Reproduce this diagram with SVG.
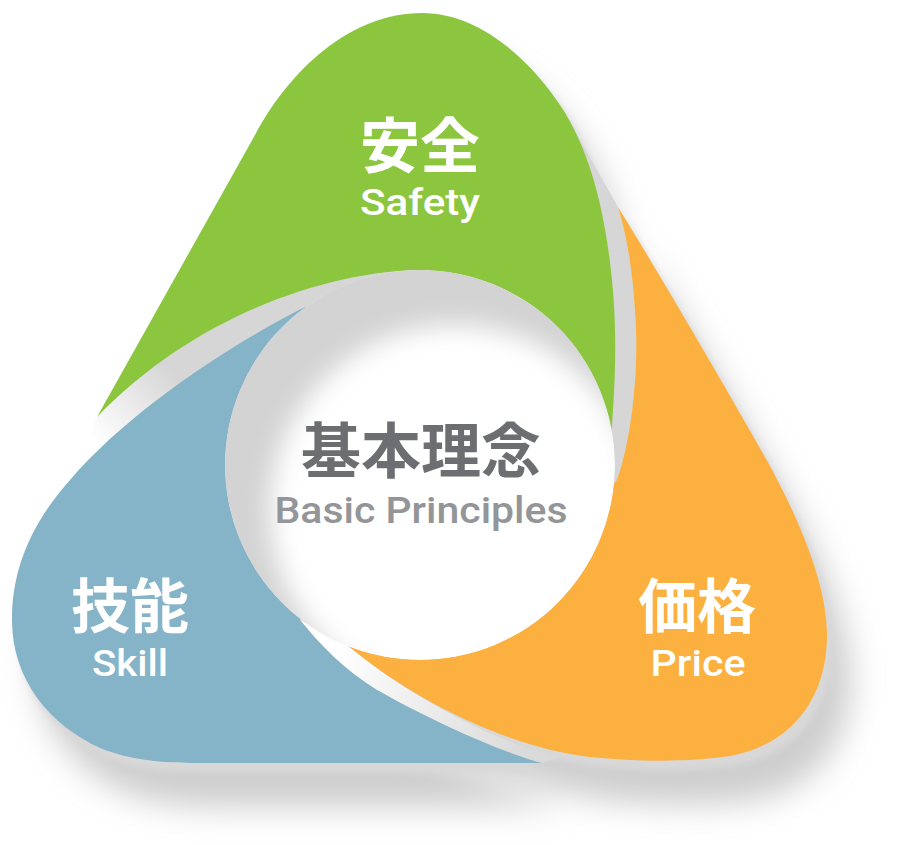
<svg xmlns="http://www.w3.org/2000/svg" width="902" height="845" viewBox="0 0 902 845">
<style>
.jp{font-family:"Noto Sans CJK JP","Noto Sans CJK SC",sans-serif;font-weight:700;text-anchor:middle}
.en{font-family:Roboto,"Liberation Sans",Arial,sans-serif;font-weight:500;text-anchor:middle}
.w{fill:#ffffff}
</style>
<defs>
<path id="pG" d="M 97,417 L 255,135 C 290,70 350,13 422,13 C 480,13 530,60 560,105 C 590,150 605,210 612,280 C 618,340 615,400 608,470 L 430,400 L 430,270 C 340,268 200,310 97,417 Z"/>
<path id="pB" d="M 340,300 L 305,307 C 230,345 130,410 70,480 C 30,525 12,570 12,620 C 12,680 50,725 100,748 C 130,760 160,763 200,763 L 542,763 C 500,752 430,720 377,690 C 345,670 320,645 300,620 L 330,560 Z"/>
<path id="pO" d="M 618,207 C 660,275 730,395 765,457 C 800,520 827,585 827,635 C 827,700 790,745 730,756 C 690,762 640,762 590,757 C 510,748 410,700 340,639 L 420,560 L 600,500 L 617,480 C 630,445 638,380 636,330 C 634,280 628,240 618,207 Z"/>
<filter id="blurWide" filterUnits="userSpaceOnUse" x="-60" y="-60" width="1020" height="980"><feGaussianBlur stdDeviation="16"/></filter>
<filter id="blurTight" filterUnits="userSpaceOnUse" x="-60" y="-60" width="1020" height="980"><feGaussianBlur stdDeviation="3"/></filter>
<filter id="blurIn" filterUnits="userSpaceOnUse" x="100" y="150" width="700" height="650"><feGaussianBlur stdDeviation="13"/></filter>
<clipPath id="circleClip"><circle cx="420" cy="465" r="195"/></clipPath>
<linearGradient id="gapGB" gradientUnits="userSpaceOnUse" x1="95" y1="440" x2="170" y2="370">
<stop offset="0" stop-color="#ffffff"/><stop offset="1" stop-color="#d6d6d6"/>
</linearGradient>
<linearGradient id="gapOB" gradientUnits="userSpaceOnUse" x1="340" y1="645" x2="520" y2="760">
<stop offset="0" stop-color="#ffffff"/><stop offset="1" stop-color="#dadada"/>
</linearGradient>
</defs>
<rect width="902" height="845" fill="#ffffff"/>
<g id="shadows">
<g fill="#cdcdcd" filter="url(#blurWide)" transform="translate(24,44)">
<use href="#pG"/><use href="#pB"/><use href="#pO"/>
</g>
<g fill="#d8d8d8" filter="url(#blurTight)" transform="translate(6,10)">
<use href="#pG"/><use href="#pB"/><use href="#pO"/>
</g>
<path fill="url(#gapGB)" d="M 97,417 C 200,310 340,268 430,270 L 420,465 L 305,307 C 230,345 130,410 70,480 Z"/>
<path fill="#d6d6d6" d="M 560,105 C 590,150 605,210 612,280 C 618,340 615,400 608,470 L 617,480 C 630,445 638,380 636,330 C 634,280 628,240 618,207 Z"/>
<path fill="url(#gapOB)" d="M 300,620 C 320,645 345,670 377,690 C 430,720 500,752 542,763 L 560,757 C 510,748 410,700 340,639 Z"/>
</g>
<g id="node-safety">
<use href="#pG" fill="#8cc63f"/>
<text class="jp w" x="420" y="168" font-size="60">安全</text>
<text class="en w" x="420" y="215" font-size="37" textLength="120" lengthAdjust="spacingAndGlyphs">Safety</text>
</g>
<g id="node-price">
<use href="#pO" fill="#fbb040"/>
<text class="jp w" x="697" y="628" font-size="59">価格</text>
<text class="en w" x="698" y="676" font-size="37" textLength="95" lengthAdjust="spacingAndGlyphs">Price</text>
</g>
<g id="node-skill">
<use href="#pB" fill="#85b3c8"/>
<text class="jp w" x="130" y="628" font-size="59">技能</text>
<text class="en w" x="130" y="676" font-size="37" textLength="76" lengthAdjust="spacingAndGlyphs">Skill</text>
</g>
<g id="node-center">
<g clip-path="url(#circleClip)">
<circle cx="420" cy="465" r="195" fill="#ffffff"/>
<path fill="#d3d3d3" fill-rule="evenodd" filter="url(#blurIn)" d="M 190,230 H 660 V 710 H 190 Z M 270,510 A 185,185 0 1,0 640,510 A 185,185 0 1,0 270,510 Z"/>
</g>
<text class="jp" x="421" y="473" font-size="60" fill="#6d6e71">基本理念</text>
<text class="en" x="421" y="523" font-size="37" fill="#939598" textLength="293" lengthAdjust="spacingAndGlyphs">Basic Principles</text>
</g>
</svg>
